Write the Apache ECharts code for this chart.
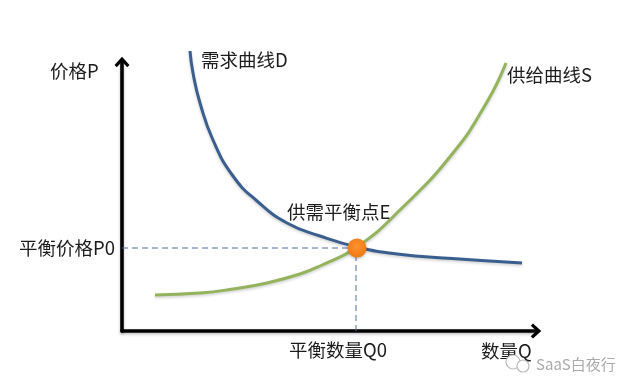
<!DOCTYPE html>
<html><head><meta charset="utf-8">
<style>html,body{margin:0;padding:0;background:#fff}#c{width:640px;height:392px}</style>
<script src="https://cdn.jsdelivr.net/npm/echarts@6/dist/echarts.min.js"></script>
</head><body><div id="c"></div>
<script>
const demandQ = [68,71,78,91,111,135,165,198,235,275,330,400];
const demandP = [280,258,228,191,155,130,108,95,84,77,72.5,68];
const supplyQ = [33,78,111,145,178,198,235,280,331,365,384];
const supplyP = [36,38,42,48,57,65,84,123,178,229,268];
const equilibriumQ = 234, equilibriumP = 83;
const xTickLabel = '平衡数量Q0', yTickLabel = '平衡价格P0';
const noteNames = ['价格P','需求曲线D','供给曲线S','供需平衡点E','数量Q'];
const noteQ = [-72,79,385,165,359];
const noteP = [260,271,256,119,-20];
const watermark = 'SaaS白夜行';

const font = '"Noto Sans CJK SC","Noto Sans",sans-serif';
const zip = (a,b)=>a.map((v,i)=>[v,b[i]]);
const arrow = 'path://M10 0 L20 11 L17 14 L10 6.5 L3 14 L0 11 Z';
const axisBase = {
  type:'value', min:0, splitLine:{show:false}, axisTick:{show:false},
  axisLine:{show:true,onZero:false,symbol:['none',arrow],symbolSize:[15,15],
    lineStyle:{color:'#000',width:3.6,shadowColor:'rgba(0,0,0,.25)',shadowBlur:3,shadowOffsetY:1.5}}
};
const chart = echarts.init(document.getElementById('c'),null,{renderer:'canvas'});
chart.setOption({
  animation:false,
  backgroundColor:'#fff',
  grid:{left:122,right:104,top:62,bottom:61},
  xAxis:Object.assign({},axisBase,{max:414,
    axisLabel:{customValues:[equilibriumQ],formatter:()=>xTickLabel,fontFamily:font,fontSize:18.5,color:'#1c1c1c',margin:10,padding:[0,36,0,0]}}),
  yAxis:Object.assign({},axisBase,{max:269,
    axisLabel:{customValues:[equilibriumP],formatter:()=>yTickLabel,fontFamily:font,fontSize:18.5,color:'#1c1c1c',margin:7}}),
  series:[
    {type:'line',name:'参考线P',data:[[0,equilibriumP],[equilibriumQ,equilibriumP]],symbol:'none',silent:true,
     lineStyle:{color:'#4f6f9c',width:1,type:[6,4]}},
    {type:'line',name:'参考线Q',data:[[equilibriumQ,0],[equilibriumQ,equilibriumP]],symbol:'none',silent:true,
     lineStyle:{color:'#4f6f9c',width:1,type:[6,4]}},
    {type:'line',name:'需求曲线D',data:zip(demandQ,demandP),smooth:0.5,symbol:'none',clip:false,
     lineStyle:{color:'#3A5F8E',width:3,shadowColor:'rgba(0,0,0,.2)',shadowBlur:3,shadowOffsetY:1.5}},
    {type:'line',name:'供给曲线S',data:zip(supplyQ,supplyP),smooth:0.5,symbol:'none',clip:false,
     lineStyle:{color:'#93B45C',width:3,shadowColor:'rgba(0,0,0,.2)',shadowBlur:3,shadowOffsetY:1.5}},
    {type:'scatter',name:'供需平衡点E',data:[[equilibriumQ+1,equilibriumP]],symbolSize:19,z:5,
     itemStyle:{opacity:1,color:new echarts.graphic.RadialGradient(0.5,0.4,0.6,[{offset:0,color:'#FC9330'},{offset:1,color:'#EE7812'}]),
       shadowColor:'rgba(0,0,0,.25)',shadowBlur:3,shadowOffsetY:1.5}},
    {type:'scatter',name:'注释',data:noteNames.map((n,i)=>({name:n,value:[noteQ[i],noteP[i]]})),symbolSize:0,clip:false,silent:true,z:6,
     itemStyle:{opacity:1},
     label:{show:true,position:'right',distance:0,formatter:p=>p.name,fontFamily:font,fontSize:18.5,color:'#1c1c1c'}}
  ],
  graphic:[
    {type:'circle',shape:{cx:513,cy:362,r:7},style:{fill:'#fff',stroke:'#bbb',lineWidth:1.2},z:20},
    {type:'circle',shape:{cx:523,cy:366,r:6},style:{fill:'#fff',stroke:'#bbb',lineWidth:1.2},z:21},
    {type:'text',x:536,y:364,style:{text:watermark,fontFamily:font,fontSize:15,fill:'#aaa',verticalAlign:'middle'},z:22}
  ]
});
</script></body></html>
